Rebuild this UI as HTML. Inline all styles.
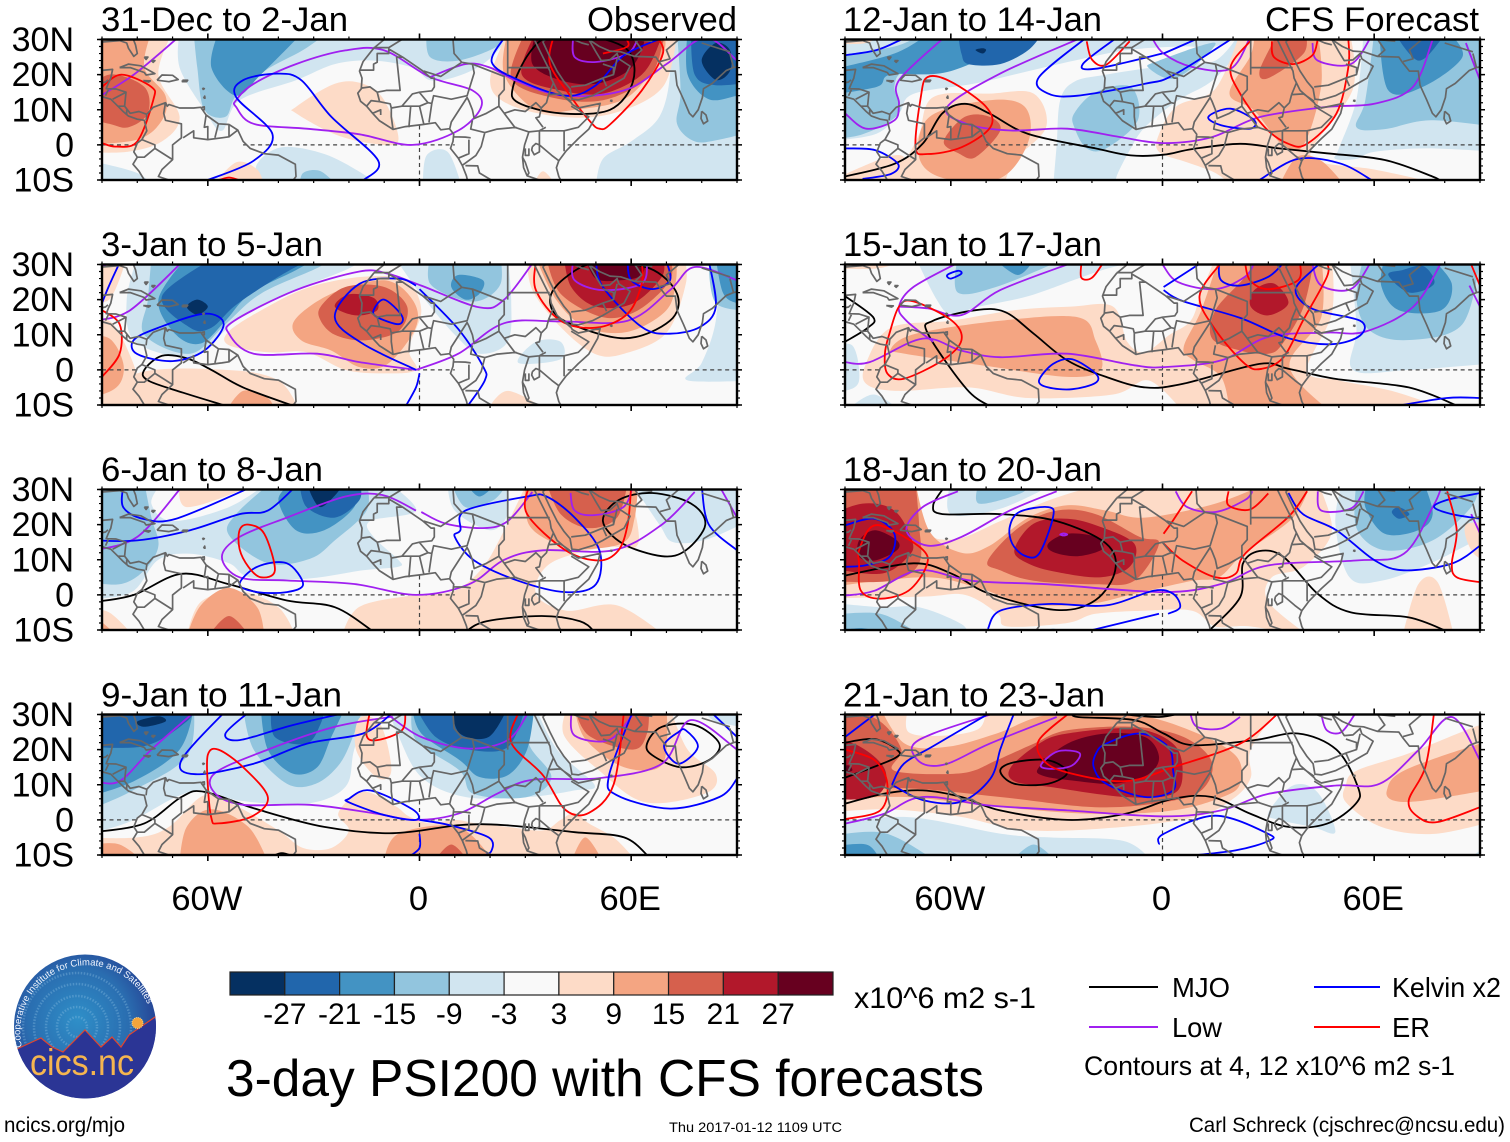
<!DOCTYPE html>
<html lang="en">
<head>
<meta charset="utf-8">
<title>3-day PSI200 with CFS forecasts</title>
<style>
html,body{margin:0;padding:0;background:#fff;}
svg{display:block;}
text{font-family:"Liberation Sans",sans-serif;fill:#000;}
</style>
</head>
<body>
<svg id="chart" xmlns="http://www.w3.org/2000/svg" width="1510" height="1142" viewBox="0 0 1510 1142">
<rect x="0" y="0" width="1510" height="1142" fill="#fff"/>
<g id="panels"></g>

<g font-size="34">
<text x="101" y="31" textLength="247" lengthAdjust="spacingAndGlyphs">31-Dec to 2-Jan</text>
<text x="101" y="256" textLength="222" lengthAdjust="spacingAndGlyphs">3-Jan to 5-Jan</text>
<text x="101" y="481" textLength="222" lengthAdjust="spacingAndGlyphs">6-Jan to 8-Jan</text>
<text x="101" y="706.500" textLength="241" lengthAdjust="spacingAndGlyphs">9-Jan to 11-Jan</text>
<text x="843" y="31" textLength="259" lengthAdjust="spacingAndGlyphs">12-Jan to 14-Jan</text>
<text x="843" y="256" textLength="259" lengthAdjust="spacingAndGlyphs">15-Jan to 17-Jan</text>
<text x="843" y="481" textLength="259" lengthAdjust="spacingAndGlyphs">18-Jan to 20-Jan</text>
<text x="843" y="706.500" textLength="262" lengthAdjust="spacingAndGlyphs">21-Jan to 23-Jan</text>
<text x="587" y="31" textLength="150" lengthAdjust="spacingAndGlyphs">Observed</text>
<text x="1265" y="31" textLength="214" lengthAdjust="spacingAndGlyphs">CFS Forecast</text>
</g>

<g id="colorbar"></g>
<text x="854" y="1008" font-size="30" textLength="182" lengthAdjust="spacingAndGlyphs">x10^6 m2 s-1</text>
<text x="226" y="1096" font-size="52" textLength="758" lengthAdjust="spacingAndGlyphs">3-day PSI200 with CFS forecasts</text>

<g>
<line x1="1089" x2="1158" y1="987" y2="987" stroke="#000" stroke-width="2"/>
<text x="1172" y="997" font-size="28" textLength="58" lengthAdjust="spacingAndGlyphs">MJO</text>
<line x1="1314" x2="1380" y1="987" y2="987" stroke="#00f" stroke-width="2"/>
<text x="1392" y="997" font-size="28" textLength="109" lengthAdjust="spacingAndGlyphs">Kelvin x2</text>
<line x1="1089" x2="1158" y1="1027" y2="1027" stroke="#a020f0" stroke-width="2"/>
<text x="1172" y="1037" font-size="28" textLength="50" lengthAdjust="spacingAndGlyphs">Low</text>
<line x1="1314" x2="1380" y1="1027" y2="1027" stroke="#f00" stroke-width="2"/>
<text x="1392" y="1037" font-size="28" textLength="38" lengthAdjust="spacingAndGlyphs">ER</text>
<text x="1084" y="1075" font-size="27" textLength="371" lengthAdjust="spacingAndGlyphs">Contours at 4, 12 x10^6 m2 s-1</text>
</g>

<g>
<defs>
<radialGradient id="logo-sky" cx="0.45" cy="0.45" r="0.6">
<stop offset="0" stop-color="#2f8fc8"/><stop offset="0.6" stop-color="#2a6db0"/><stop offset="1" stop-color="#253a8f"/>
</radialGradient>
<clipPath id="logo-clip"><ellipse cx="85" cy="1026.5" rx="71" ry="72"/></clipPath>
<path id="logo-arc" d="M 22 1047 A 66 66 0 1 1 152 1017"/>
</defs>
<ellipse cx="85" cy="1026.5" rx="71" ry="72" fill="url(#logo-sky)"/>
<g fill="none" stroke="#8fc4e6" stroke-opacity="0.35" stroke-dasharray="1.5 1.5" stroke-width="2.5">
<circle cx="77" cy="1027" r="10"/><circle cx="77" cy="1027" r="20"/><circle cx="77" cy="1027" r="31"/><circle cx="77" cy="1027" r="43"/><circle cx="77" cy="1027" r="54"/>
</g>
<g clip-path="url(#logo-clip)">
<path d="M10 1052 L19 1048 L41 1038 L52 1047 L63 1052 L85 1030 L101 1047 L112 1037 L121 1047 L129 1035 L155 1017 L165 1012 L165 1105 L10 1105 Z" fill="#2b3595" stroke="#e0452f" stroke-width="1.2"/>
</g>
<circle cx="137.500" cy="1023" r="5.500" fill="#f5a53c" stroke="#fbd68a" stroke-dasharray="1 1"/>
<text font-size="9.500" style="fill:#f2f6ff"><textPath href="#logo-arc">Cooperative Institute for Climate and Satellites</textPath></text>
<text x="30" y="1075" font-size="37" textLength="104" lengthAdjust="spacingAndGlyphs" style="fill:#f5b54f">cics.nc</text>
</g>

<text x="4" y="1132" font-size="21" textLength="121" lengthAdjust="spacingAndGlyphs">ncics.org/mjo</text>
<text x="669" y="1132" font-size="14" textLength="173" lengthAdjust="spacingAndGlyphs">Thu 2017-01-12 1109 UTC</text>
<text x="1189" y="1132" font-size="21" textLength="316" lengthAdjust="spacingAndGlyphs">Carl Schreck (cjschrec@ncsu.edu)</text>
</svg>

<script>
/* ---- scale / legend values ---- */
const lonTicks = [-60, 0, 60];
const lonTickLabels = ['60W', '0', '60E'];
const latTicks = [30, 20, 10, 0, -10];
const latTickLabels = ['30N', '20N', '10N', '0', '10S'];
const fieldLevels = [-27, -21, -15, -9, -3, 0, 3, 9, 15, 21, 27];
const fieldColors = ['#053061', '#2166ac', '#4393c3', '#92c5de', '#d1e5f0', '#f9f9f9', '#fddbc7', '#f4a582', '#d6604d', '#b2182b', '#67001f'];
const colorbarLabels = ['-27', '-21', '-15', '-9', '-3', '3', '9', '15', '21', '27'];
const seriesNames = ['mjo', 'low', 'kelvin', 'er'];
const seriesColors = ['#000000', '#a020f0', '#0000ff', '#ff0000'];

/* ---- map outlines, [lon,lat,...] ---- */
const coastlines = [
[-90,21.2,-87,21.5,-87.5,19,-88.2,17.5,-88.8,16,-86,15.9,-83.2,15,-83.6,11,-82,9,-79.5,9.5,-77.3,8.7,-75.5,10.7,-72,12,-71.5,11,-71,11.5,-68,10.5,-64,10.5,-62,10.7,-60.5,8.5,-57,6,-54,5.8,-51.5,4.2,-50,1,-48,-1,-44,-2.5,-40,-2.9,-35.2,-5.5,-35,-9,-36.5,-11],
[-91,14,-87.5,13,-85.5,11,-84,9.5,-82.5,8.2,-80,7.3,-78,7,-77.3,4,-78.7,1.5,-80,0.5,-81,-2,-80,-3.5,-81.2,-5.5,-79.5,-7.5,-78,-10,-77,-12],
[-91,29.2,-85,29.7,-83,29,-82.5,27.5,-81,25.2,-80,26,-80.5,28.5,-81.5,31],
[-85,22,-82.5,23,-79,22.5,-75,20.3,-77.5,19.9,-78,20.6,-82,22,-85,22],
[-74.4,18.4,-73,19.9,-70,19.8,-68.4,18.6,-71,18,-74.4,18.4],
[-78.3,18.3,-76.3,18.2,-76.8,17.9,-78.3,18.3],
[-67.2,18.4,-65.7,18.4,-66,18,-67.2,18,-67.2,18.4],
[-78,25,-77.5,24.3,-77,25,-78,25],
[-76,24,-75.5,23.5,-75,24,-76,24],
[-61.5,16.2,-61,16,-61.3,15.8,-61.5,16.2],
[-61.2,13.3,-60.9,13.9,-60.8,13.3,-61.2,13.3],
[-61.7,10.7,-61,10.8,-61,10,-61.7,10.2,-61.7,10.7],
[-6,35,-10,30,-13,27.5,-16,23.7,-17,21,-16.3,19,-16.5,16,-17.5,14.7,-16.7,12.4,-15,11,-13.3,9,-11.4,6.9,-7.5,4.4,-4,5.2,1,5.8,4.5,6.3,6,4.3,8.5,4.6,9.7,3,9.5,1,8.8,-1,11,-3.8,12.2,-6,13.3,-8.8,13.8,-11,13.8,-13],
[32.5,31,32.6,29.9,34,27,35.5,24,37,21,37.3,19,39,15.5,43,12,43.3,11.5,45,10.5,51.2,11.8,50.5,9,48,4.5,45,1.8,41.5,-1.8,39.5,-4.5,38.8,-6.5,39.5,-9,40.5,-11,40.5,-13],
[34.9,29.5,37,25,39,21,41,18,42.7,16,43.2,13,45,12.8,49,14,52,15.5,55,17.3,58,19,59.7,22.4,56.5,24.5,56,26,54,24.2,51.5,24,50,26.5,48,30],
[48,30,51,28,54,26.7,57,26.5,61,25.2,67,25,68,23.5,70,21,72.5,21,73,17,74.8,13,76.5,9,77.5,8,79,10,80.2,13.5,80.5,16,83,17.5,87,21.2,89,22,91.5,22.5,92,21,94.3,16,97.5,16.5],
[80,9.6,81.2,8.5,81.7,6.8,80.5,6,79.8,7.5,80,9.6],
[32,-0.5,33,0.4,34,0,34,-2,32.5,-2.8,31.8,-1.5,32,-0.5],
[29.2,-3.5,30,-5,31,-8,30.5,-8.8,29.5,-6.5,29.2,-3.5],
[54,12.6,54.5,12.7,54.5,12.4,54,12.6]
];
const borders = [
[-72,12,-72.5,9,-72,7,-67.5,6,-67.5,2,-70,0,-70,-4.2,-73,-7,-74,-9,-71,-10,-69,-11],
[-60.5,8.5,-61,5,-60,5.2,-60,1.5,-64,2,-64,4,-67,2],
[-57,6,-58,2],[-54,5.8,-54,2.3],[-51.5,4.2,-54,2.3,-56,2,-60,1.5],
[-78.7,1.5,-75,0,-75,-1,-70,-4.2],[-80,-3.5,-78,-3.5,-75,-1],
[-85.5,11,-83.7,11],[-87,13,-83.2,15],[-89,14,-88.2,15.7],[-92,14.5,-91,17.5,-89,17.9,-88.3,18.5],[-83,8.5,-83,10],[-77.3,8.7,-77.5,7],
[-13,27.7,-8.7,27.7,-5,30,-2,32],
[-17,21.3,-13,21.3,-13,23,-12,23.5,-12,26,-8.7,26,-8.7,27.3,-4.8,25,-6.5,25,-5.5,15.5,-9.4,15.5,-12,15,-14,16.5,-16.3,16.2],
[-4.8,25,1,21,3.3,19,4.2,19,4.2,16.5,3.5,15.4,0,15,-2,14.5,-5,11,-8,10.5,-8.3,11.7,-11.3,12.3,-12,15],
[1.2,21,6,19.5,12,23.5,9.8,26,9.5,30,8,33],
[12,23.5,15,23,15.5,20.5,13.5,14,9,13,4,14,3.5,11.8,2.4,12,0,14.9],
[15,23,24,19.5,24,15.7,22.5,14,22.5,11,19,9,15.5,7.5,15,10,14,12.5],
[25,33,25,20],[25,22,36.9,22],
[36.6,14.3,36,12,34.5,10.5,34,8,33,7.7,35,5],[36.6,14.3,38,17.8],[36.6,14.3,40,14.5,43,12.4],
[24,9,27,5,31,3.7,34,4,35.8,5],[22.5,11,24,9],[24,9,27,10,30,9.5,33,12,34.5,10.5],
[15,7,14.5,4.5,18.5,3.5,22,4.5,27.5,5],
[2.7,6.4,3.5,11.8],[8.6,4.7,9,6.5,13.5,13.5,14,12.5],
[-3,5,-2.5,11],[1.2,6,0,11],[-7.5,4.4,-8,8,-8,10.5],[-15,11,-13.7,12.6,-11.3,12.3],[-13.3,9,-11,10,-11,8.5],[-5,11,-2.5,11,0,11,2.4,12],
[9.8,2.3,13,2.2,14.5,2],[11,-3.8,14,-2.5,14,1.5],[18.5,3.5,17.5,-0.5,16,-3,12.2,-5.8],[13,-5.9,16.5,-6,17,-8,22,-11],
[31,3.7,29.8,0,29.2,-3.5,29.5,-6.5],[34,4,41,4,41,-1.8],[34,4,34,0,37.5,-3,39.5,-4.5],[41,4,45,5,48,8,43,11],[34,-10,30.5,-8.8],[40.5,-10.5,34.5,-11.5],[30,-1,30,-3,31,-3,31,-1],
[35,29.5,39,32,46,29,48,28.5],[43,16.5,47,17,52,19,55,20,55,22,52,23],[55,20,56,24.5],[52,19,53,16.7],
[61,25.2,63,27,61,30],[68.2,23.7,71,24.5,70,27,73.5,30,74,34],[88,26,89,22],[92,21,93,25,97,28],[80,29,88,26.5],[48,30,46,33],[61,30,66,29.5]
];

/* ---- panel 1: 31-Dec to 2-Jan ---- */
const p1Field = [
[-3,-68,32,-68,22,-61,10,-56,4,-51,12.7,-35,18.4,-24,23,-13,24,-2,22,3,18.4,10,19.3,18,23,24,29,25,32],
[-3,-96,-4,-80,-8,-75,-13,-96,-13],
[-3,-46,-12,-46,-5.4,-39,-0.7,-27,-2.6,-16,-8.3,-12,-12],
[-3,1,-12,2,-3,8,-2,12,-12],
[-3,50,-12,52,-4,60,1,68,8,71,20,70,32,95,32,95,-12],
[-9,-64,32,-63,22,-61,10,-55,8,-52,14,-44,21,-33,27,-26,32],
[-9,2,32,3,25,11,24,22,28,24,32],
[-9,-34,-12,-33,-8,-28,-7.5,-23,-12],
[-9,73,32,74,15,73,6,78,1,85,1.5,95,4,95,32],
[-15,-57,32,-59,22,-52,14,-45,20,-35,30,-32,33],
[-15,76,32,76,20,82,13,90,14,95,15,95,32],
[-21,77,32,78,20,84,17,95,18,95,32],
[-27,80,24,84,29,88,27,88,21,84,18.5],
[3,-96,32,-70,32,-74,20,-68,8,-73,1,-83,-2,-96,-2],
[3,-35,10.8,-24,17.4,-16,17.4,-10,12.7,-6,1.2,-13,0.3,-24,3,-35,9],
[3,-59,-12,-52,-5,-46,-7,-44,-12],
[3,32,-12,35,-7.5,39,-12],
[3,25,32,20,18.4,25,11.7,40,8,55,9,69,16.5,73,32],
[9,-96,32,-76,32,-78,22,-72,14,-73,7,-80,1.5,-96,0],
[9,25,32,24,20,33,10,44,10,59,13.6,69,26,69,32],
[15,-96,14,-88,20,-78,16.5,-77,9,-82.5,5,-88,6,-96,8],
[15,30,32,26,19,37,13.6,52,12.7,65,19.3,69,29,69,32],
[21,33,32,29,20,40,15.5,52,14.6,63,20,68,29,68,32],
[27,33,32,32,23,40,18.4,50,17.4,59,21,63,27,64,32]
];
const p1Mjo = [[31,26,26.5,16.5,28,12,40,9,54,10,60.5,18,59,27,48,31,37,31,31,26]];
const p1Low = [
[-92,13,-81,20,-68.5,30.5],
[-52,12.7,-47,17.4,-35,23,-21,26.9,-10,26.9,3,19.3,15,15.5,17.5,10.8,11,4.1,-2,0,-17,3,-32,4.6,-47,6,-52,10.8,-52,12.7],
[3,19.3,13,23,20,22,28,18,41,14,58,15.5,70,23,81,30.5,90,24],
[43.5,30.5,44,25,50,23.6,59,26,62,30.5]
];
const p1Kelvin = [
[24,30.5,20.5,23.5,28,18.5,41.5,14,50,17,58,25.5,69,30.5],
[-60,-10,-47,-4.5,-41.7,3.1,-52,13.6,-50,18.4,-40.3,20.3,-33.5,18.4,-25,8,-11.7,-4.5,-15.8,-10]
];
const p1Er = [
[-90,0.5,-86,-0.5,-80,1,-75.5,12.7,-76,16.5,-84.5,20,-90,16.5],
[-58,-10.5,-54,-9.3,-50,-10.5],
[38,31,37,23,43,13.6,48.500,6.500,51,4.600,54,5.800,63,15.5,69,26,67,31],
[52,26,59,28,58,31]
];

/* ---- panel 2: 3-Jan to 5-Jan ---- */
const p2Field = [
[-3,-80,32,-83,20,-81,8.4,-68,3.6,-61,5.5,-51,15,-38,21.7,-21,28.4,-15,32],
[-3,-7,32,0,22,10,10,17,4.6,25,8,26,20,25,32],
[-3,28,2,33,8,40,8,40,3],
[-3,76,-3,80,2,84,14,85,32,95,32,95,-3],
[-9,-76,32,-77,20,-78,10,-65,4.6,-55,13,-45,21.7,-29,29,-25,32],
[-9,3,32,3,24.5,11.5,20,18,20,23,24.5,23,32],
[-9,82,32,84,19,95,17,95,32],
[-15,-66,32,-74,20,-69,10,-62,7.5,-55,14,-48,21.7,-35,28.4,-29,32],
[-15,9,23.6,13,20,17,21.7,18,25.5,11,27],
[-15,84,32,86,22,90,19,95,19,95,32],
[-21,-58,32,-73,21,-65,12,-59,12,-52,18.5,-40,26.5,-30,32],
[-27,-66,18,-63,20,-60,18,-63,15.7],
[3,-96,32,-83,32,-88,20,-96,20],
[3,-96,12,-88,14,-82,4,-80,-5,-85,-12,-96,-12],
[3,-92,-12,-80,-1,-55,0,-40,-3,-34,-12],
[3,-54,11,-43,18,-31,23.6,-16,26.5,-4,25.5,0.5,17,-3,6,-1,0,-10,-1,-21,0,-32,5,-43,5,-54,7],
[3,19,-12,25,-6,37,-12],
[3,30.5,32,32,22.7,40,12.2,49.6,4.6,58,4.6,70,10.5,75.5,24.5,75,32],
[9,-96,10,-88,9,-84,2,-85,-4,-90,-7,-96,-7],
[9,-55,-12,-50,-6,-43,-8,-41,-12],
[9,-35.5,14,-25,21.7,-10,25.5,-2,20,-1,12.2,-9,1.7,-17,0.8,-25,5.5,-33.5,8.4],
[9,33,32,38.7,20,47,12.2,59,10.8,70,17,72.7,25.5,72.7,32],
[15,-28,18,-21,23.6,-10,23.6,-3.5,18,-6,11,-16,8.4,-24,10,-28,14],
[15,36,32,40,21.7,52,15,62,17,71,25.5,71,32],
[21,-24,18,-20,21.5,-13,20.5,-12,17,-18,15.5],
[21,41,32,43,23.6,50,18,60.5,18.9,68.7,26.5,69,32],
[27,47,32,50,26,57,25.5,63,27,64,32]
];
const p2Mjo = [
[-54,-10.5,-67,-6.5,-77,-3,-78,0,-73,4,-66,3.3,-59,0,-50,-5,-35,-10.5],
[37,20,41,14,58,9,71,14,73,21.7,65,29,50,30.5,41,26,37,20]
];
const p2Low = [
[-92,14,-82,17,-67,31],
[-92,28,-88,30.5],
[-1,0,-17,2.2,-29,4.6,-47,4.6,-54,10.3,-52.5,14,-35,22.7,-17,28,-9,27.4,0.5,24,17,17.8,24,20,32.5,31],
[-1,0,11,4.6,24,13.3,40,13.8,59,14,71,22.7,78,29.3,90,25.5],
[43.5,31,44,25.5,52,22.7,63,24.6,64.5,31]
];
const p2Kelvin = [
[-85,30.5,-88,24,-90,19],
[-81,8.5,-74,12,-61,16,-55.5,13,-61,5.5,-70,2.5,-80,4.5,-81,8.5],
[-1,0,-16,7.4,-24,15,-17,24.5,-6,26,-1,24],
[0,23,11,11.6,18,1,18.5,-3,13.5,-10.5],
[0,-1,-1,-5,-4,-10.5],
[-13,17,-10,20,-5,15.4,-6,13,-12,15,-13,17],
[50,31,52,23.6,63,12.2,71,10.3,79.5,12.2,84,18,82,31],
[59,31,60,25.5,66,23,71,25.5,70,31]
];
const p2Er = [
[-90,17,-85,13,-85,4.6,-90,-2],
[33,31,33,22.7,40,14,50,12,59,16,63,24.6,63,31]
];

/* ---- panel 3: 6-Jan to 8-Jan ---- */
const p3Field = [
[-3,-96,32,-73,32,-76,26,-70,21,-54,25,-43,32,-9,32,-1,24,-14,21,-13,16.5,-6,10,-6,8,-16,7,-32,4.6,-48,5,-54,9,-65,11.7,-74,10,-81,1.2,-90,-1,-96,-1],
[-3,8,32,10,24,20,18.4,25,23,25,32],
[-3,60,32,68,20,72,15,82,16,95,22,95,32],
[-9,-96,32,-78,32,-76,22,-74,14,-78,7,-85,3,-96,4],
[-9,-42,32,-52,23,-54,17,-43,9,-31,10.3,-24,15.5,-15,24,-15,32],
[-9,9,32,13,25,21,27,25,32],
[-15,-36,32,-40,27,-35,18.4,-27,18.4,-18.5,25,-18,32],
[-15,13,32,17,28,22,32],
[-21,-34,32,-32,25,-24,22,-17,27,-17,32],
[-27,-32,32,-28,25,-21,32],
[3,-68,32,-66,25,-50,30,-48,32],
[3,-96,-13,-96,-4,-88,-5,-80,-13],
[3,-66,-12,-62,-2,-51,1,-40,-3.5,-35,-12],
[3,-22,-12,-17,-3.4,-1,0,10,1.2,18,7.9,24,18.4,30.5,32,59,32,62,14.6,52,13.6,37,8.9,33,0.3,41.7,-4.5,56,-3,70,-12],
[9,-96,-13,-92,-6,-84,-13],
[9,-66,-12,-62,-3,-54,2,-46,-3.5,-44,-12],
[9,30,32,31,20,40,14,47,13,58,15,61,22,62,32],
[15,-60,-12,-54,-6,-48,-12],
[15,36,32,40,23,48,19,56,22,59,32]
];
const p3Mjo = [
[-92,-2,-81,0,-67.5,6,-54,3,-37.6,-1.6,-24,-3.5,-13,-10.5],
[13,-10.5,19,-7.5,34.6,-6,45.5,-7.5,49.6,-10.5],
[52,21,56.5,27,66,29,77,26,81,20,75.5,12.7,68.7,11,57.6,14.6,52,21]
];
const p3Low = [
[-92,12.7,-80,16.5,-68,30],
[-1,24,-10.4,28.4,-21,28,-37.6,22,-51,16.5,-56,10.8,-51,5,-37.6,4.1,-18.5,3.1,-1,0,14,3,24,10,35,12.7,55,12.7,68.7,20,78,29.3],
[0.5,23.6,7.4,20.3,18,19,25,21,32,29.3],
[42.8,29,44,24,49.6,22.7,57.8,25,60.5,31],
[85,31,90,22]
];
const p3Kelvin = [
[-84,31,-84,25,-78.5,21.7,-69,21.7,-47,31],
[-92,15.5,-80,15.5,-65,18.4,-51,23,-43,24,-35,31],
[-51,3,-46,8,-37.6,9,-33,3,-37.6,0.8,-46,0.8,-51,3],
[11.6,18.4,13,24,30.5,28,36,28,44,22,51,12.7,50,3,41.4,0.8,28,4,15.5,9.8,10,16.5,11.6,18.4],
[80,31,82,20,90,12.7]
];
const p3Er = [
[-51,18.4,-48.5,20,-44,17.4,-41,7,-45,5,-48.5,8,-51,13,-51,18.4],
[31,31,30.5,23,41.4,12.7,50.9,9.8,56.4,12.7,59,20,60,31]
];

/* ---- panel 4: 9-Jan to 11-Jan ---- */
const p4Field = [
[-3,-96,-4,-90,-3,-81,0,-69,6.5,-61,8.5,-51,5.5,-32,4.6,-21,9.4,-18.5,20,-14,32,-96,32],
[-3,-9,32,-6,24,0.5,12.2,13,6.5,31,6.5,44,8.4,49.6,10,39,20,33,32],
[-3,80,32,84,28,95,26,95,32],
[-9,-96,2,-82,8,-66,18,-64,32,-96,32],
[-9,-50,32,-47,20,-37.6,10.3,-29.4,10.3,-22.6,16,-18.5,24.6,-16,32],
[-9,-2,32,-1,22.7,11.4,14,15.4,7.4,30.5,6.5,37.4,12.2,31,21.7,32,32],
[-15,-96,6,-81,11,-68,20,-64,32,-96,32],
[-15,-45,32,-43,20,-36,13.2,-29,15,-25,23.6,-21,32],
[-15,-2,32,0.5,24.6,11.4,17,17,12.2,25,12.7,30.5,20,32.5,32],
[-21,-96,21,-78,21,-66,28,-64,32,-96,32],
[-21,-42,32,-41,23.6,-32,21.7,-28,27.4,-27,32],
[-21,-1,32,4.6,23.6,14,20,25,20.7,30,32],
[-27,-80,28,-74,29.5,-72,28,-78,26.5],
[-27,9,32,11.4,24.6,19.6,23.6,25,32],
[3,-18,20,-17,29,-11,27,-8,14,-12,12],
[3,-96,-12,-96,-5,-80,-5,-71,-2,-61,7,-52,4,-40,-3,-33,-8,-25,-8,-20,-3,-23,2,-16,8,-7,4,-3,1,3,-1,10,0,16,-1,25,-2,35,-3,40,0,44,2,48,-1,55,-5,60,-10,62,-12],
[3,42,32,41,24,51,14,64,5,81,7.5,84,13,76,20,71,32],
[9,-68,-12,-66,-2,-59,3,-48.5,-2,-43,-12],
[9,-96,-12,-92,-7,-85,-7,-78,-12],
[9,-10,-12,-6,-4,11,-2,21,-12],
[9,43,-12,47,-5,52,-12],
[9,44,32,47,23,58,15,69,16,70,32],
[15,4,-12,9,-7,14,-12],
[15,44,32,48,24,60.5,20,64.5,24.6,65,32]
];
const p4Mjo = [
[-92,-3.5,-78,-1,-67.5,6.5,-61,8,-46,3,-27,-2,-7.5,-3.8,11.4,-1.5,24,-1.5,44,-3.5,58,-5,65,-10.5],
[-42,-10.5,-39,-9.5,-35.5,-10.5],
[64.5,21.7,68.7,26.5,78,27,85,21.7,82,17,74,15,66,18.4,64.5,21.7]
];
const p4Low = [
[-92,11,-85,11,-76,20,-63.5,31],
[-7.6,29.4,-24,26.5,-43,20,-58,13.3,-58,7.6,-50,4.3,-31,4.3,-13,1.9,-1,0,11.4,1.9,22.3,7.6,32,11.4,51,11.9,68.7,16,76.8,28.4,90,20],
[-9,30,0.5,23.6,14,20.3,25,22.7,30.5,30],
[43,30.5,44,24,53.7,22.7,60.5,30]
];
const p4Kelvin = [
[-48,31,-55,24.6,-51,22.7,-37,26.7,-21,30.5],
[-55,31,-67.5,17,-63.5,13,-47,16,-32,21.7,-16,24.6,-7.6,30.5],
[-20,6,-14,8.4,-2,3,-1,0,-10,1.4,-20,5,-20,6],
[0,0,8.5,-1.5,19.6,-5,20.3,-9,17,-10.5],
[0,-4,0,-8,-3,-10.5],
[60.5,31,53.7,12.5,56,7,71,3.2,85,6.5,90,11.7],
[73.4,25,69.3,21,73.4,16,78.9,20.7,75.5,25.5,73.4,25],
[82.3,31,90,23.6]
];
const p4Er = [
[-14,31,-15,24,-12,22.7,-5,25.5,-4,31],
[28,30.5,26,22,35,12.7,41.4,2.8,48,2,55,10,58,31],
[-60,18.5,-57,20,-50,15,-43,6.5,-47.5,1,-57,-1,-59,0.5,-60,10,-60,18.5]
];

/* ---- panel 5: 12-Jan to 14-Jan ---- */
const p5Field = [
[-3,-96,1,-81.5,3,-74.7,9,-70.6,14.5,-53,17.5,-38,21,-25,24,-10,27,5,28,15,28,22,32,-96,32],
[-3,-31,-12,-30,0,-29,12.7,-25,18,-16,20,4,23,15,24,22,32,26,32,15,19,4.4,12.7,-5,5,-9,-1,-13,-9,-13,-12],
[-3,49,-4,50,-1,55,13,57,32,95,32,95,-2,75,-1,60,-2,55,-4],
[-9,-96,1.5,-85,3,-74.7,9,-76,16.5,-73,21,-60,23,-33,32,-68,32,-76,28,-96,25],
[-9,-25,9,-19,15,-9,16.5,-7,7,-16,-1,-21.5,-1,-25,5],
[-9,-4,22,-1,24,15,29,4,19],
[-9,55,5,57.5,12.7,60,32,95,32,95,5,76,7,63,4.5],
[-15,-96,14,-81,16.5,-77,20,-60,21,-38,31,-34,32,-66,32,-76,26,-96,21],
[-15,61.5,32,64,15.5,73.8,16.5,85,25,81,32],
[-21,-57,26,-55,23,-46,23,-38,27,-34,32,-58,32],
[-21,65.7,32,72.5,24,79,30,80,32],
[-27,-53,27,-51,27.5,-50,27,-51,26],
[3,-96,33,-78,33,-84,29,-96,29],
[3,-73,-4,-69,3,-65,13.6,-49,14.6,-36.5,14.6,-33,5,-42,-4.5,-45,-12,-69,-12,-78,-7],
[3,-96,-12,-87,-7,-74,-3,-72,-12],
[3,-1,-2,-1,3,4,11,15,16,22,32,53,32,54,16,42.5,-1,45,-5,60,-7,78,-11,40,-12,20,-12,15,-8,7,-5],
[9,-69,-3.5,-66,8,-49,12.7,-39,10.8,-38,1,-46,-9.5,-62,-9.5],
[9,19,14.6,25,25.5,26,32,44,32,45,17,40,0,34,0,26,9.8],
[9,33,-12,38,-3.5,45,-4.5,52,-12],
[15,-62,1,-56,8,-49,8,-46,4,-53,-3.5,-57.6,-2.5],
[15,27.5,21,31.6,30,31.6,32,40.5,32,40,26,30,19]
];
const p5Mjo = [
[-90,-9,-76,-5.4,-68,0.3,-62.4,9,-56,11.7,-49,8.9,-38,3.1,-19,-1,-9,-3,0.3,-2.8,8.4,-1.2,22,0.3,33,-1,46.6,-2.4,63,-4.3,76.5,-9,79,-10.5],
[-36,-10.5,-33,-10,-30,-10.5]
];
const p5Low = [
[-90,9,-84,4.6,-76,7,-74.7,11.7,-74.7,18.4,-62,30.5],
[-23,30.5,-46,20.3,-61,10.8,-55.6,6,-43,4.1,-27,4.6,-12,2.2,0.3,0.5,14,2.2,27.5,7.9,46.6,10.8,60,11.7,71,16.5,76.6,30],
[-3,30.5,0.3,26,8.4,22.2,19.3,21.7,24.8,30.5],
[42.5,29,44,24,53.4,23,59,30.5],
[86,29,90,18.4]
];
const p5Kelvin = [
[-90,25.5,-81,27,-74,30],
[-90,-1,-81.5,-1.5,-75,-5.4,-77,-8.3,-85,-9.7],
[-13,30.5,-22.6,23,-18.8,21.7,0,26],
[-21,31,-35,19.3,-32.4,14.6,-24,14,-5,17.4,3,19.8,19.3,30],
[13,8,19.3,10.3,26,7,24.8,4.6,16.6,5.6,13,8],
[0.3,26,10.5,30.5],
[27.5,-10,38.4,-4,50.7,-5.4,60,-10.5]
];
const p5Er = [
[-68.5,13.6,-66.6,19.3,-60,18,-50,10.8,-48.8,5,-57,-0.7,-66.6,-2.6,-70,-0.7,-68.5,13.6],
[-21.5,29.5,-20,24.3,-16,22.8,-9.3,29.5],
[24.8,29.5,19.3,22.2,22,14.6,29,5,35.7,0.3,41,0.3,49.3,8.9,52.7,22.2,52.7,30],
[31,29.5,31.6,25,37,23,42.5,25.5,44,30]
];

/* ---- panel 6: 15-Jan to 17-Jan ---- */
const p6Field = [
[-3,-70,32,-64,20,-60,16,-52,18,-38,21,-24,26,-15,29,-2,32],
[-3,-90,-12,-82,-7,-74,-12],
[-3,-96,6,-88,7,-86,-3,-90,-6,-96,-6],
[-3,54,0,55,12,53,32,95,32,95,2,70,0],
[-9,-58,32,-58,22,-46,24,-27,32],
[-9,59,11,55,20,57,32,90,32,85,13,70,8.5],
[-15,-48,32,-41,27,-36,32],
[-15,62,24,67,17,79,17,82,24.5,76,32,63,32],
[-21,64,27,70,22,77,24.5,74,29.5,68,28.4],
[3,-84,2,-77,12,-60,14,-42,17,-26,18,-14,18,-10,8,-5,5,2,10,8,14,11,22,15,32,48,32,48,16,41,0,50,-3,65,-6,80,-11,90,-13,20,-13,5,-11,-4,-3,-14,-7,-38,-8,-55,-5,-75,-6,-84,-4],
[3,-96,33,-70,33,-80,29,-96,29],
[9,-96,33,-80,33,-86,30.5,-96,30],
[9,-77,6,-70,10.3,-46,14,-24,15,-19,8.4,-17.5,0,-27,-2,-49,1,-73,4.6],
[9,6,6.5,11,17,16,32,45,32,45,15,36,1,48,-12,19,-12,16.6,-2,8.4,3],
[15,14,9,15,17,23,26,27,32,43,32,40,18,34,7.4,30,4.6,22,5.5],
[21,25,18,26,22.7,31.6,24.6,35.7,19,30,15.5]
];
const p6Mjo = [
[-90,21,-82,15,-83.5,12,-90,8],
[-48.8,-10.4,-55.6,-5.4,-66.5,10.3,-65,14,-53,17,-44.7,16.5,-36.5,10.3,-27,2.7,-16,-2,-5,-5,5.7,-4,27.5,1.7,35.7,0.3,49.3,-2.6,69.8,-5,84,-10.4]
];
const p6Low = [
[-90,2.2,-83,2.2,-68,8.9,-57,5.5,-46,3.6,-27,4.6,-8,1.3,0.3,0.8,16.6,2.7,30,9.4,46.6,10.6,57.5,10.9,71,17.9,79,30.5],
[-65,8,-72.6,14,-74.7,18,-70.6,23.6,-58,30.5],
[-25.6,30.5,-46,22.7,-57,15.6,-66.5,17.5,-74.7,18],
[0,30,4.4,25,15,23,23.4,26.5,26,30.5],
[42.5,30,45,24,53.4,23,59,30.5],
[87,24,90,18]
];
const p6Kelvin = [
[-61,27,-58,28.2,-57,27.4,-60,26,-61,27],
[0.3,23.6,11,30.5],
[0.3,22.7,5.7,19.6,22,14.8,35.7,9,48,7.3,56,9.8,56,14,42.5,17.4,37.7,22.7,42.5,28.4,45,30.5],
[16,30.5,16.6,25.5,22,24,30,26.5,34.3,30.5],
[-35,-3,-31,1.7,-25.6,3,-19,-1,-19,-3.7,-25.6,-5.5,-32.4,-5,-35,-3],
[65.7,-10.4,80.6,-8,90,-8]
];
const p6Er = [
[-23,30.5,-23,26.2,-20,26.2,-16.8,30.5],
[-77.4,10.3,-74.7,18,-70.6,19.5,-59.7,14,-57,8.4,-62.4,2.7,-73.3,-2.5,-78,-1,-78.7,4.6,-77.4,10.3],
[16.6,30.5,10.5,21,15,11.4,23.4,1.7,28.2,0.3,34.3,3.6,39.8,14,46.6,26.5,46.6,30.5],
[23.4,30.5,24.8,25.5,30,23,38.4,25.5,39,30.5],
[87.5,30,90,24]
];

/* ---- panel 7: 18-Jan to 20-Jan ---- */
const p7Field = [
[-3,-60,32,-60,23,-46,24.5,-30,32],
[-3,-96,-2,-80,-3.5,-69,-3.5,-57,-8.3,-55,-12,-96,-12],
[-3,-34,-12,-31,-9.5,-27,-12],
[-3,51,32,49,20.3,53,5,62,4,76,9,90,16,95,17,95,32],
[-9,-52,32,-52,26,-40,29,-38,32],
[-9,-96,-6,-80,-5.4,-68,-12,-96,-12],
[-9,55,32,55,19,63,12.7,76.6,15.5,87.5,25,90,32],
[-15,-96,-11,-85,-9.5,-77,-12,-96,-12],
[-15,58,32,57.5,25,63,17.4,72.5,18.4,76.6,23,74,32],
[-21,65,23.6,67,25,70,23,67,21.7],
[3,-96,-1,-68,-0.5,-56,0,-46.7,-5.4,-44,-9,-27,-8,-19,-5.4,-5,-4.5,8.4,-4.5,15,-9,25,-9,42,-12,30,-2,31,5,40,8,48,18,44,32,-16,32,-32,27,-46,21,-58,16,-67,18,-70,32,-96,32],
[3,68,-12,72.5,3,78,3.6,82.7,-12],
[3,86,20,95,20,95,8,88,12],
[9,-96,2,-68,5,-53,2.2,-38,-2.6,-21,-2.6,-8,0.3,8.4,4,16,5,23,11.7,37,22,42,32,30,32,15,26,-5,22,-16,24,-27,25.5,-38,22,-49,14,-57,12,-66,18,-70,32,-96,32],
[15,-96,32,-70,32,-69,20,-69,9,-77,4,-96,4],
[15,-49.5,9.8,-40.6,19.3,-30,24,-19,23,-6.5,16.5,-1,14.6,-8,4,-19,3,-36.5,4,-46,7],
[21,-96,22,-85,26,-76,24,-71,15.5,-72,11,-80,6,-96,8],
[21,-42,12.7,-36.5,20.3,-27,21.7,-17.4,19.3,-8,14.6,-9.3,8,-17.4,5,-30,6.5,-38,8.9],
[27,-86,15.5,-81.5,18.4,-75.3,15.5,-75.3,12.7,-81.5,9.8,-86,10.8],
[27,-32.4,14.6,-27,17.4,-19,16.5,-17,13.1,-24,11,-31,12.2]
];
const p7Mjo = [
[-90,5.5,-70.6,9,-59.7,6,-49,0.3,-30,-4.3,-19,-1.5,-13.4,7,-16,14.6,-30,21,-46,23,-62.4,23,-65,25.5,-62,30.5],
[13,-10.4,22,-0.7,22.8,8.9,27.5,12.5,34.3,10.8,44,0.3,53.4,-5,69.8,-6.4,80.7,-10.4]
];
const p7Low = [
[-90,-0.2,-81.6,1.2,-69,7,-54,4,-32.4,3,0.3,0.8,16.6,3.1,30,8.4,54.8,9.8,68.4,11.7,76.6,25,79,30.5],
[-58,29.5,-68,25,-72.6,18.4,-66.5,14,-57,16.5,-43.3,24,-30,29.5],
[3.7,29.5,7,25,15,23.6,23.4,27,25.5,29.5],
[44,29.5,45,24,53.4,24.6,57,29.5],
[87.5,23,90,17.5],
[-29,17.2,-28,17.5,-27,17.2,-28,16.9,-29,17.2]
];
const p7Kelvin = [
[-90,19.8,-81.6,21.7,-76,17.4,-77.4,10.8,-84.3,8.4,-90,8],
[-43.3,19.3,-40.6,23.6,-32.4,25,-31,22.2,-35,11.7,-39.2,11.2,-42.6,14.6,-43.3,19.3],
[-49.5,-9.7,-46,-4.5,-32.4,-2.6,-16,-3,-2.5,1.2,3,0.3,5,-3.5,1.6,-5.4],
[-1,-5.4,-21.5,-10.4],
[35.7,29,39.8,23,49.3,18.4,60.2,9.8,68.4,7,82,8.9,90,14],
[90,29,80.6,27,77,25,82,23,90,21.7]
];
const p7Er = [
[-86,12.7,-82.6,19.3,-77.4,18.8,-67.8,12.7,-67,8,-72,1.2,-80,-1.1,-85.5,1.2,-86,8.9,-86,12.7],
[0.3,17.4,3,21.2,8.4,29.5],
[0.3,14.6,5.7,9.8,15,5,20.7,6,23.4,11.7,35.7,22.2,41,29.5],
[18.7,29.5,18.7,25.5,24.8,24.3,30,28.9],
[80.7,29.5,83.4,18.4,82,8.9,83.4,5,90,3.6]
];

/* ---- panel 8: 21-Jan to 23-Jan ---- */
const p8Field = [
[-3,-96,-1,-72,0.8,-46,-3.9,-32,-5,-11,-6,-3,-12,-96,-12],
[-3,30,2,37,9.8,44,7.8,49,-3.4,42.5,-2,33,0],
[-3,87,-12,90,-9,95,-12],
[-9,-96,-5,-79,-3.7,-64,-12,-96,-12],
[-9,-43,-12,-36.5,-7,-30,-12],
[-15,-96,-8,-84,-7,-80,-12,-96,-12],
[3,-96,2,-78,3,-58,1,-38,-3,-11,-2,10,1,20,6,25,12,25,20,33,32,-96,32],
[0,-72,32,-72,25,-62,24,-52,26,-50,32],
[3,52,10,55,14,70,19,90,27,95,27,95,0,77,-4,62,-2,52,5],
[9,-96,5.5,-73,6.5,-46,3.6,-19,1.7,3,2.7,17,6.5,22,10.3,21,18,10,24.6,-8,30,-32,30,-47,24.6,-61,20.8,-73,21.7,-80,32,-96,32],
[9,63.6,8.4,68.4,14,90,21.7,95,21.7,95,9,74,5.5,65.6,5.5],
[15,-96,8,-73,9,-46,6.5,-19,3.6,0.3,5,11,8.4,14,16.5,6,23.6,-8,26.5,-27,25.5,-36.5,21.7,-47,17,-57,13.3,-76,14,-74,20,-80,28,-90,32,-96,32],
[21,-43,15,-35,21.7,-27,24.6,-8,26,3,21.7,5.7,14,3,7.4,-10.6,6.5,-32,9.4,-42,11],
[21,-96,24,-86,21,-79,15,-79,9,-84,6,-96,6],
[27,-35,15,-27,21.7,-16,24.6,-5,23.6,-1,18,-4,13,-13.4,10.3,-25.6,11.2,-34,12.6],
[27,-92,15,-89,15.5,-88,14,-91,13.5]
];
const p8Mjo = [
[-90,4.6,-78.7,7.5,-68,8.4,-57,6.5,-46,2.7,-27,0,-10.6,1.7,3,6,14,6.5,25,1.7,35.7,-2,46.6,-1.1,54.8,4.6,55.4,9.4,49.3,20,38.4,24.6,26,22.7,8.4,21.3,0.3,24.6,-8,28.4,-24,29.3,-25,30.6],
[-90,12,-76,17.5,-75.3,20,-81.5,23,-90,22],
[-46,14,-42,16.4,-32.4,17,-27,13.5,-32.4,10.3,-42,10.3,-46,14],
[-10.6,30,-1,29.3,5.7,30.5]
];
const p8Low = [
[-90,-1.1,-79,1.7,-68,6.5,-49,4.1,-27,2.7,0.3,1,16.6,2.7,30,7.4,49.3,9.8,61.6,10.3,72.5,19.8,82,29.3,90,17],
[-48.8,30,-65,24.6,-71,20.8,-68,16,-61,16,-49,21.7,-30,29.3],
[7.8,30.5,9.8,26.5,16.6,26,22,29.3],
[45,30,46.6,25.5,50.7,25,54.8,30.5],
[-34.5,15.5,-29.7,19.5,-23.5,19,-25.6,15.5,-31,14.5,-34.5,15.5]
];
const p8Kelvin = [
[-90,23.6,-81.6,30],
[-76.7,10,-73.3,16,-65,21,-48.8,30.5],
[-76.7,10,-67.8,5.6,-57,5.2,-48.8,11.7,-46,20,-44.7,23.6,-42,30.5],
[-18.8,19,-16,21.7,-6.5,24.6,1.6,20.8,3,14,3,8.4,-5,6.5,-16,10.3,-19.5,15,-18.8,19],
[-1,-7,0.3,-4,15,1.2,30,-4,30,-6,20.7,-8.7,5.7,-10.4]
];
const p8Er = [
[-90,20,-81.6,17,-78,10.3,-80,2.7,-90,0.2],
[-26.3,30.5,-35,22.7,-33.8,17,-27,13.5,-10.6,11,3,15,22,21.7,33,30.5],
[77,30.5,74.5,15,69.8,5.5,72.5,0.8,78,-0.6,90,3.6]
];

const panelFields = [p1Field, p2Field, p3Field, p4Field, p5Field, p6Field, p7Field, p8Field];
const panelMjo = [p1Mjo, p2Mjo, p3Mjo, p4Mjo, p5Mjo, p6Mjo, p7Mjo, p8Mjo];
const panelLow = [p1Low, p2Low, p3Low, p4Low, p5Low, p6Low, p7Low, p8Low];
const panelKelvin = [p1Kelvin, p2Kelvin, p3Kelvin, p4Kelvin, p5Kelvin, p6Kelvin, p7Kelvin, p8Kelvin];
const panelEr = [p1Er, p2Er, p3Er, p4Er, p5Er, p6Er, p7Er, p8Er];

/* ---- layout + axis functions ---- */
const NS = 'http://www.w3.org/2000/svg';
const colLeft = [102, 845];
const rowTop = [39.5, 264.5, 489.5, 714.5];
const PW = 635, PH = 140.5;
function xScale(col, lon) { return colLeft[col] + (lon + 90) * PW / 180; }
function yScale(row, lat) { return rowTop[row] + (30 - lat) * PH / 40; }
function fieldColor(level) { return fieldColors[fieldLevels.indexOf(level)]; }
function fmt(v) { return v.toFixed(1); }

function project(flat, start, col, row) {
  const pts = [];
  for (let i = start; i + 1 < flat.length; i += 2) {
    pts.push([xScale(col, flat[i]), yScale(row, flat[i + 1])]);
  }
  return pts;
}
/* Catmull-Rom smoothing; when a frame box is given, vertices outside it stay sharp
   so that shapes running off the panel keep their true corner coverage. */
function smoothPath(pts, closed, box) {
  const n = pts.length;
  const at = function (i) {
    if (closed) return pts[(i + n) % n];
    return pts[Math.max(0, Math.min(n - 1, i))];
  };
  const tangent = function (i) {
    const p = at(i);
    if (box && (p[0] < box[0] || p[0] > box[2] || p[1] < box[1] || p[1] > box[3])) return [0, 0];
    const a = at(i - 1), b = at(i + 1);
    return [(b[0] - a[0]) / 6, (b[1] - a[1]) / 6];
  };
  let d = 'M' + fmt(pts[0][0]) + ' ' + fmt(pts[0][1]);
  const segs = closed ? n : n - 1;
  for (let i = 0; i < segs; i++) {
    const p1 = at(i), p2 = at(i + 1), t1 = tangent(i), t2 = tangent(i + 1);
    d += 'C' + fmt(p1[0] + t1[0]) + ' ' + fmt(p1[1] + t1[1]) + ' ' +
         fmt(p2[0] - t2[0]) + ' ' + fmt(p2[1] - t2[1]) + ' ' +
         fmt(p2[0]) + ' ' + fmt(p2[1]);
  }
  return closed ? d + 'Z' : d;
}
function straightPath(lines, col, row) {
  let d = '';
  lines.forEach(function (flat) {
    project(flat, 0, col, row).forEach(function (p, i) {
      d += (i ? 'L' : 'M') + fmt(p[0]) + ' ' + fmt(p[1]);
    });
  });
  return d;
}
function make(parent, tag) {
  const el = document.createElementNS(NS, tag);
  parent.appendChild(el);
  return el;
}

function drawPanel(i) {
  const col = i < 4 ? 0 : 1;
  const row = i % 4;
  const box = [colLeft[col], rowTop[row], colLeft[col] + PW, rowTop[row] + PH];
  const root = document.getElementById('panels');
  const g = make(root, 'g');
  
  

  const defs = make(g, 'defs');
  const clip = make(defs, 'clipPath');
  clip.setAttribute('id', 'clip-' + i);
  const clipRect = make(clip, 'rect');
  clipRect.setAttribute('x', colLeft[col]);
  clipRect.setAttribute('y', rowTop[row]);
  clipRect.setAttribute('width', PW);
  clipRect.setAttribute('height', PH);

  const inner = make(g, 'g');
  inner.setAttribute('clip-path', 'url(#clip-' + i + ')');

  const bg = make(inner, 'rect');
  
  
  bg.setAttribute('x', colLeft[col]);
  bg.setAttribute('y', rowTop[row]);
  bg.setAttribute('width', PW);
  bg.setAttribute('height', PH);
  bg.setAttribute('fill', fieldColor(0));

  panelFields[i].forEach(function (poly) {
    const el = make(inner, 'path');
    
    
    el.setAttribute('d', smoothPath(project(poly, 1, col, row), true, box));
    el.setAttribute('fill', fieldColor(poly[0]));
  });

  const dash = make(inner, 'path');
  
  
  dash.setAttribute('d', 'M' + xScale(col, -90) + ' ' + yScale(row, 0) + 'H' + xScale(col, -80) +
    'M' + xScale(col, -50) + ' ' + yScale(row, 0) + 'H' + xScale(col, 10) +
    'M' + xScale(col, 42) + ' ' + yScale(row, 0) + 'H' + xScale(col, 90) +
    'M' + xScale(col, 0) + ' ' + yScale(row, 5.5) + 'V' + yScale(row, -10));
  dash.setAttribute('fill', 'none');
  dash.setAttribute('stroke', '#444');
  dash.setAttribute('stroke-width', '1.2');
  dash.setAttribute('stroke-dasharray', '4 3.5');

  const groups = [panelMjo[i], panelLow[i], panelKelvin[i], panelEr[i]];
  groups.forEach(function (lines, s) {
    lines.forEach(function (flat) {
      const closed = flat.length > 4 && flat[0] === flat[flat.length - 2] && flat[1] === flat[flat.length - 1];
      const data = closed ? flat.slice(0, flat.length - 2) : flat;
      const el = make(inner, 'path');
      
      
      el.setAttribute('d', smoothPath(project(data, 0, col, row), closed));
      el.setAttribute('fill', 'none');
      el.setAttribute('stroke', seriesColors[s]);
      el.setAttribute('stroke-width', '1.8');
    });
  });

  const map = make(inner, 'path');
  
  
  map.setAttribute('d', straightPath(coastlines, col, row) + straightPath(borders, col, row));
  map.setAttribute('fill', 'none');
  map.setAttribute('stroke', '#666');
  map.setAttribute('stroke-width', '1.7');
  map.setAttribute('stroke-linejoin', 'round');

  /* minor ticks */
  let minor = '';
  for (let lon = -90; lon <= 90; lon += 10) {
    const x = xScale(col, lon);
    minor += 'M' + x + ' ' + (yScale(row, 30) - 3) + 'V' + yScale(row, 30) + 'M' + x + ' ' + yScale(row, -10) + 'V' + (yScale(row, -10) + 3);
  }
  for (let lat = -10; lat <= 30; lat += 2) {
    const y = yScale(row, lat);
    minor += 'M' + (xScale(col, -90) - 3) + ' ' + y + 'H' + xScale(col, -90) + 'M' + xScale(col, 90) + ' ' + y + 'H' + (xScale(col, 90) + 3);
  }
  const minorEl = make(g, 'path');
  
  
  minorEl.setAttribute('d', minor);
  minorEl.setAttribute('stroke', '#000');
  minorEl.setAttribute('stroke-width', '1.2');
  minorEl.setAttribute('fill', 'none');

  /* major ticks */
  let major = '';
  lonTicks.forEach(function (lon) {
    const x = xScale(col, lon);
    major += 'M' + x + ' ' + (yScale(row, 30) - 6) + 'V' + yScale(row, 30) + 'M' + x + ' ' + yScale(row, -10) + 'V' + (yScale(row, -10) + 6);
  });
  latTicks.forEach(function (lat) {
    const y = yScale(row, lat);
    major += 'M' + (xScale(col, -90) - 5) + ' ' + y + 'H' + xScale(col, -90) + 'M' + xScale(col, 90) + ' ' + y + 'H' + (xScale(col, 90) + 5);
  });
  const majorEl = make(g, 'path');
  
  
  majorEl.setAttribute('d', major);
  majorEl.setAttribute('stroke', '#000');
  majorEl.setAttribute('stroke-width', '1.6');
  majorEl.setAttribute('fill', 'none');

  const frame = make(g, 'rect');
  
  
  frame.setAttribute('x', colLeft[col]);
  frame.setAttribute('y', rowTop[row]);
  frame.setAttribute('width', PW);
  frame.setAttribute('height', PH);
  frame.setAttribute('fill', 'none');
  frame.setAttribute('stroke', '#000');
  frame.setAttribute('stroke-width', '2.4');

  if (col === 0) {
    latTicks.forEach(function (lat, k) {
      const t = make(g, 'text');
      
      
      t.setAttribute('x', 74);
      t.setAttribute('y', yScale(row, lat) + 11.5);
      t.setAttribute('text-anchor', 'end');
      t.setAttribute('font-size', '34');
      t.textContent = latTickLabels[k];
    });
  }
  if (row === 3) {
    lonTicks.forEach(function (lon, k) {
      const t = make(g, 'text');
      
      
      t.setAttribute('x', xScale(col, lon) - 1);
      t.setAttribute('y', 910);
      t.setAttribute('text-anchor', 'middle');
      t.setAttribute('font-size', '34.5');
      t.textContent = lonTickLabels[k];
    });
  }
}
for (let i = 0; i < 8; i++) { drawPanel(i); }

/* ---- colorbar ---- */
(function () {
  const bar = document.getElementById('colorbar');
  const left = 230, top = 972, h = 23, w = 603 / fieldColors.length;
  fieldColors.forEach(function (c, i) {
    const r = make(bar, 'rect');
    
    
    r.setAttribute('x', left + i * w);
    r.setAttribute('y', top);
    r.setAttribute('width', w);
    r.setAttribute('height', h);
    r.setAttribute('fill', c);
    r.setAttribute('stroke', '#222');
    r.setAttribute('stroke-width', '1.2');
  });
  colorbarLabels.forEach(function (label, i) {
    const t = make(bar, 'text');
    
    
    t.setAttribute('x', left + (i + 1) * w);
    t.setAttribute('y', 1024);
    t.setAttribute('text-anchor', 'middle');
    t.setAttribute('font-size', '30');
    t.textContent = label;
  });
})();
</script>
</body>
</html>
